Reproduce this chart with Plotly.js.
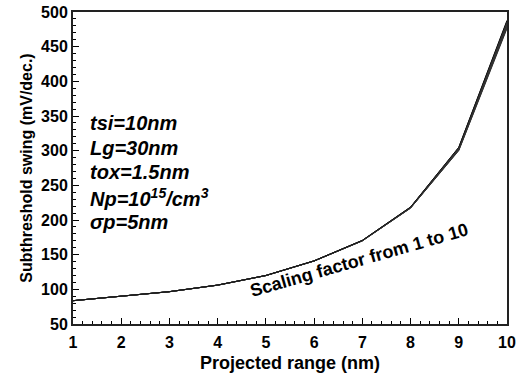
<!DOCTYPE html>
<html>
<head>
<meta charset="utf-8">
<script src="https://cdn.plot.ly/plotly-3.0.1.min.js"></script>
<style>html,body{margin:0;padding:0;background:#fff;}#chart{width:517px;height:381px;}</style>
</head>
<body>
<div id="chart"></div>
<script>
// Projected range (nm)
const projectedRange = [1, 2, 3, 4, 5, 6, 7, 8, 9, 10];
// Subthreshold swing (mV/dec.) for scaling factors 1..10
const sf1  = [83.6, 90.2, 96.6, 106.0, 119.8, 140.8, 169.8, 217.0, 300.0, 476.0];
const sf2  = [83.6, 90.2, 96.6, 106.0, 119.8, 140.8, 169.9, 217.2, 300.6, 477.5];
const sf3  = [83.6, 90.2, 96.6, 106.0, 119.8, 140.9, 170.0, 217.4, 301.2, 479.0];
const sf4  = [83.6, 90.2, 96.6, 106.0, 119.9, 140.9, 170.1, 217.6, 301.8, 480.5];
const sf5  = [83.6, 90.2, 96.6, 106.1, 119.9, 141.0, 170.2, 217.8, 302.4, 482.0];
const sf6  = [83.6, 90.2, 96.6, 106.1, 119.9, 141.0, 170.3, 218.0, 303.0, 483.5];
const sf7  = [83.6, 90.2, 96.7, 106.1, 120.0, 141.1, 170.4, 218.2, 303.6, 485.0];
const sf8  = [83.6, 90.2, 96.7, 106.1, 120.0, 141.1, 170.5, 218.4, 304.2, 486.0];
const sf9  = [83.6, 90.2, 96.7, 106.2, 120.0, 141.2, 170.6, 218.6, 304.6, 487.0];
const sf10 = [83.6, 90.2, 96.7, 106.2, 120.1, 141.2, 170.7, 218.8, 305.0, 488.0];
const seriesList = [sf1, sf2, sf3, sf4, sf5, sf6, sf7, sf8, sf9, sf10];
const xTicks = [1, 2, 3, 4, 5, 6, 7, 8, 9, 10];
const yTicks = [50, 100, 150, 200, 250, 300, 350, 400, 450, 500];

const traces = seriesList.map((ys, i) => ({
  x: projectedRange, y: ys, type: 'scatter', mode: 'lines',
  line: {color: i % 2 ? '#111' : '#555', width: 1},
  showlegend: false, hoverinfo: 'skip'
}));

const fam = 'Arial, Liberation Sans, sans-serif';
const tickFont = {family: fam, size: 16, color: '#000', weight: 'bold'};
const annFont = {family: fam, size: 20, color: '#000'};

const layout = {
  width: 517, height: 381,
  margin: {l: 73, r: 10, t: 12, b: 57},
  paper_bgcolor: '#fff', plot_bgcolor: '#fff',
  showlegend: false,
  xaxis: {
    range: [1, 10], tickvals: xTicks, ticktext: xTicks.map(String),
    ticks: 'inside', ticklen: 6, tickwidth: 1, tickcolor: '#000',
    minor: {dtick: 0.2, ticks: 'inside', ticklen: 3, tickcolor: '#000', showgrid: false},
    showgrid: false, zeroline: false,
    showline: true, linecolor: '#222', linewidth: 2, mirror: true,
    tickfont: tickFont, ticklabelstandoff: 3,
    title: {text: '<b>Projected range (nm)</b>', font: {family: fam, size: 18, color: '#000'}, standoff: 6}
  },
  yaxis: {
    range: [50, 500], tickvals: yTicks, ticktext: yTicks.map(String),
    ticks: 'inside', ticklen: 6, tickwidth: 1, tickcolor: '#000',
    minor: {dtick: 10, ticks: 'inside', ticklen: 3, tickcolor: '#000', showgrid: false},
    showgrid: false, zeroline: false,
    showline: true, linecolor: '#222', linewidth: 2, mirror: true,
    tickfont: tickFont,
    title: {text: '<b>Subthreshold swing (mV/dec.)</b>', font: {family: fam, size: 16, color: '#000'}, standoff: 4}
  },
  annotations: [
    {text: '<b><i>tsi=10nm</i></b>', xref: 'paper', yref: 'paper', x: 0.035, y: 0.644, xanchor: 'left', yanchor: 'middle', showarrow: false, font: annFont},
    {text: '<b><i>Lg=30nm</i></b>', xref: 'paper', yref: 'paper', x: 0.035, y: 0.564, xanchor: 'left', yanchor: 'middle', showarrow: false, font: annFont},
    {text: '<b><i>tox=1.5nm</i></b>', xref: 'paper', yref: 'paper', x: 0.035, y: 0.487, xanchor: 'left', yanchor: 'middle', showarrow: false, font: annFont},
    {text: '<b><i>Np=10<sup>15</sup>/cm<sup>3</sup></i></b>', xref: 'paper', yref: 'paper', x: 0.035, y: 0.405, xanchor: 'left', yanchor: 'middle', showarrow: false, font: annFont},
    {text: '<b><i>σp=5nm</i></b>', xref: 'paper', yref: 'paper', x: 0.035, y: 0.327, xanchor: 'left', yanchor: 'middle', showarrow: false, font: annFont},
    {text: '<b>Scaling factor from 1 to 10</b>', xref: 'x', yref: 'y', x: 6.94, y: 143, textangle: -16, showarrow: false,
     font: {family: fam, size: 18, color: '#000'}}
  ]
};

Plotly.newPlot('chart', traces, layout, {displayModeBar: false, staticPlot: true});
</script>
</body>
</html>
